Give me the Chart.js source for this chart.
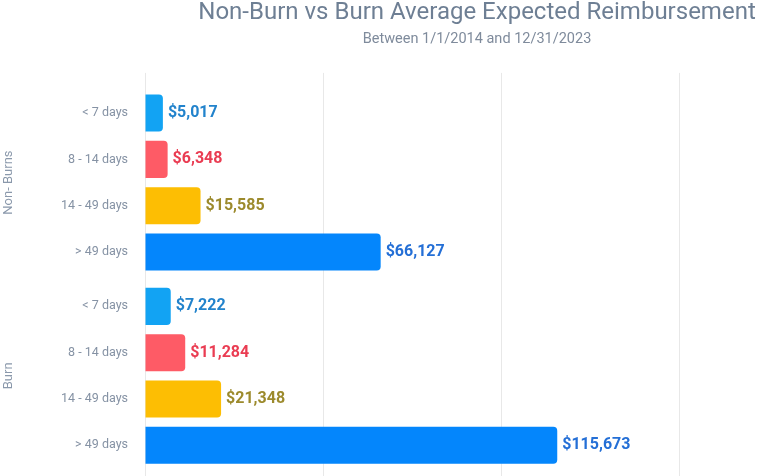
<!DOCTYPE html>
<html>
<head>
<meta charset="utf-8">
<title>Non-Burn vs Burn Average Expected Reimbursement</title>
<script src="https://cdn.jsdelivr.net/npm/chart.js@4.4.1/dist/chart.umd.min.js"></script>
<style>
    html, body { margin: 0; padding: 0; overflow: hidden; background: #fff; }
    /* the picture is a crop of a wider chart, so the canvas runs past the window */
    #chart-wrap { position: relative; width: 954px; height: 510px; }
</style>
</head>
<body>
<div id="chart-wrap"><canvas id="reimb-chart"></canvas></div>
<script>
// length-of-stay buckets, same for both groups
const stayLabels = ['< 7 days', '8 - 14 days', '14 - 49 days', '> 49 days'];
const nonBurnValues = [5017, 6348, 15585, 66127];
const burnValues = [7222, 11284, 21348, 115673];
const groupTitles = ['Non- Burns', 'Burn'];
// vertical grid lines
const xTickValues = [0, 50000, 100000, 150000, 200000];

// colours per bucket
const barColors = ['#12a3f3', '#fe5b66', '#fdbe03', '#0486fc'];
const labelColors = ['#2283cc', '#ea3c52', '#9c8a2c', '#246fd6'];

const FONT = 'Roboto';

// draws "$5,017" etc. just past the end of each bar
const valueLabels = {
    id: 'valueLabels',
    afterDatasetsDraw(chart) {
        const ctx = chart.ctx;
        ctx.save();
        ctx.font = 'bold 16px ' + FONT;
        ctx.textAlign = 'left';
        ctx.textBaseline = 'middle';
        chart.data.datasets.forEach((ds, i) => {
            chart.getDatasetMeta(i).data.forEach((bar, j) => {
                ctx.fillStyle = labelColors[j];
                ctx.fillText('$' + ds.data[j].toLocaleString('en-US'), bar.x + 5, bar.y);
            });
        });
        ctx.restore();
    }
};

// one category axis per group, stacked on the left
function groupAxis(title, order) {
    return {
        type: 'category',
        axis: 'y',
        position: 'left',
        stack: 'groups',
        stackWeight: 185,
        weight: order,
        labels: stayLabels,
        offset: true,
        grid: { display: false, drawTicks: false },
        border: { display: false },
        ticks: { color: '#8592a4', padding: 17, font: { family: FONT, size: 12.5 } },
        title: {
            display: true,
            text: title,
            color: '#8a98ab',
            font: { family: FONT, size: 13 },
            padding: { top: 1, bottom: 0 }
        },
        afterFit(scale) { scale.width = 145; }
    };
}

// empty axis used only as spacing in the stack
function spacerAxis(size, order) {
    return {
        type: 'category',
        axis: 'y',
        position: 'left',
        stack: 'groups',
        stackWeight: size,
        weight: order,
        display: false,
        labels: ['']
    };
}

function barDataset(label, values, axisId) {
    return {
        label: label,
        data: values,
        yAxisID: axisId,
        xAxisID: 'x',
        backgroundColor: barColors,
        borderRadius: 4,
        borderSkipped: 'start',
        grouped: false,
        categoryPercentage: 1,
        barPercentage: 0.8
    };
}

function createReimbursementChart() {
    const ctx = document.getElementById('reimb-chart').getContext('2d');

    return new Chart(ctx, {
        type: 'bar',
        data: {
            labels: stayLabels,
            datasets: [
                barDataset(groupTitles[0], nonBurnValues, 'yNon'),
                barDataset(groupTitles[1], burnValues, 'yBurn')
            ]
        },
        options: {
            indexAxis: 'y',
            responsive: true,
            maintainAspectRatio: false,
            animation: false,
            layout: { padding: 0 },
            scales: {
                padTop: spacerAxis(17, 5),
                yNon: groupAxis(groupTitles[0], 4),
                padMid: spacerAxis(8, 3),
                yBurn: groupAxis(groupTitles[1], 2),
                padBottom: spacerAxis(17, 1),
                x: {
                    type: 'linear',
                    position: 'bottom',
                    bounds: 'data',
                    min: 0,
                    max: 227000,
                    ticks: { display: false },
                    afterBuildTicks(scale) {
                        scale.ticks = xTickValues.map(v => ({ value: v }));
                    },
                    grid: { color: '#e8e8e8', drawTicks: false },
                    border: { display: false }
                }
            },
            plugins: {
                title: {
                    display: true,
                    text: 'Non-Burn vs Burn Average Expected Reimbursement',
                    color: '#6e7f94',
                    font: { family: FONT, size: 24, weight: 'normal', lineHeight: 1 },
                    padding: { top: 1, bottom: 6 }
                },
                subtitle: {
                    display: true,
                    text: 'Between 1/1/2014 and 12/31/2023',
                    color: '#7f8b9c',
                    font: { family: FONT, size: 14.5, lineHeight: 1.2 },
                    padding: { top: 0, bottom: 24.5 }
                },
                legend: { display: false },
                tooltip: { enabled: false }
            }
        },
        plugins: [valueLabels]
    });
}

createReimbursementChart();
</script>
</body>
</html>
